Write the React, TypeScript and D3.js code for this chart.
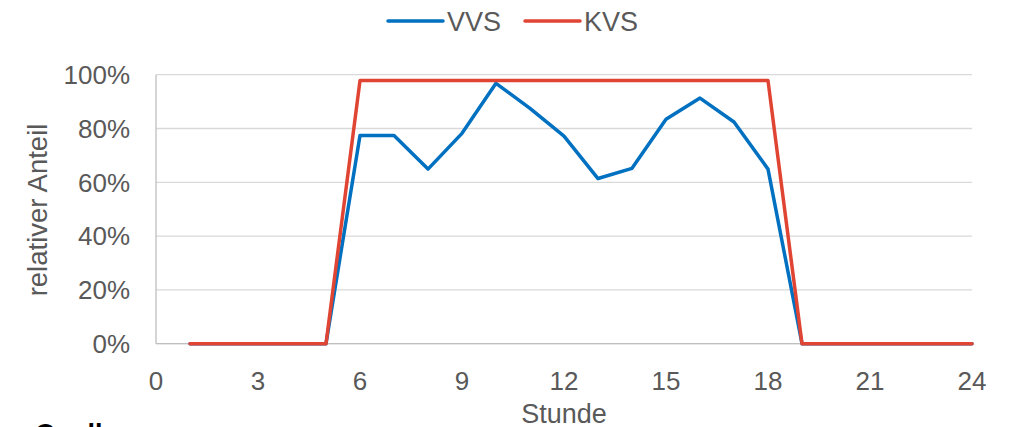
import React from 'react';
import * as d3 from 'd3';

const hours = [1, 2, 3, 4, 5, 6, 7, 8, 9, 10, 11, 12, 13, 14, 15, 16, 17, 18, 19, 20, 21, 22, 23, 24];
const vvs = [0, 0, 0, 0, 0, 77.4, 77.4, 64.9, 78.2, 96.8, 87.5, 77.2, 61.4, 65.2, 83.4, 91.3, 82.4, 64.9, 0, 0, 0, 0, 0, 0];
const kvs = [0, 0, 0, 0, 0, 97.8, 97.8, 97.8, 97.8, 97.8, 97.8, 97.8, 97.8, 97.8, 97.8, 97.8, 97.8, 97.8, 0, 0, 0, 0, 0, 0];
const xTicks = [0, 3, 6, 9, 12, 15, 18, 21, 24];
const yTicks = [0, 20, 40, 60, 80, 100];

const seriesList = [
  { name: 'VVS', values: vvs, color: '#0070C0' },
  { name: 'KVS', values: kvs, color: '#E04433' },
];

const W = 1012;
const H = 427;
const FONT = 'Liberation Sans, Arial, sans-serif';
const TEXT = '#595959';

export default function App() {
  const x = d3.scaleLinear().domain([0, 24]).range([156, 972]);
  const y = d3.scaleLinear().domain([0, 100]).range([343.7, 74.7]);

  const line = d3
    .line<number>()
    .x((_, i) => x(hours[i]))
    .y(d => y(d));

  return (
    <svg width={W} height={H} style={{ position: 'absolute', left: 0, top: 0 }}>
      <rect width={W} height={H} fill="#fff" />
      {yTicks.map(t => (
        <g key={t}>
          <line x1={156} x2={972} y1={y(t)} y2={y(t)} stroke="#d9d9d9" strokeWidth={1.3} />
          <text x={130} y={y(t)} dy="0.36em" textAnchor="end" fontFamily={FONT} fontSize={26} fill={TEXT}>
            {t}%
          </text>
        </g>
      ))}
      <line x1={156} x2={156} y1={y(100)} y2={y(0)} stroke="#bfbfbf" strokeWidth={1.3} />
      <line x1={156} x2={972} y1={y(0)} y2={y(0)} stroke="#bfbfbf" strokeWidth={1.3} />
      {xTicks.map(t => (
        <text key={t} x={x(t)} y={381} dy="0.36em" textAnchor="middle" fontFamily={FONT} fontSize={26} fill={TEXT}>
          {t}
        </text>
      ))}
      {seriesList.map(s => (
        <path
          key={s.name}
          d={line(s.values) || ''}
          fill="none"
          stroke={s.color}
          strokeWidth={3.5}
          strokeLinejoin="round"
          strokeLinecap="round"
        />
      ))}
      <text x={564} y={413} dy="0.36em" textAnchor="middle" fontFamily={FONT} fontSize={27} fill={TEXT}>
        Stunde
      </text>
      <text
        transform="translate(37,210) rotate(-90)"
        dy="0.36em"
        textAnchor="middle"
        fontFamily={FONT}
        fontSize={27.5}
        fill={TEXT}
      >
        relativer Anteil
      </text>
      {seriesList.map((s, i) => {
        const lx = 388 + i * 137;
        return (
          <g key={s.name}>
            <line x1={lx} x2={lx + 55} y1={21} y2={21} stroke={s.color} strokeWidth={3.5} strokeLinecap="round" />
            <text x={lx + 59} y={21} dy="0.36em" fontFamily={FONT} fontSize={27} fill={TEXT}>
              {s.name}
            </text>
          </g>
        );
      })}
      <text x={35} y={443} fontFamily={FONT} fontSize={27} fontWeight="bold" fill="#000">
        Quelle:
      </text>
    </svg>
  );
}
